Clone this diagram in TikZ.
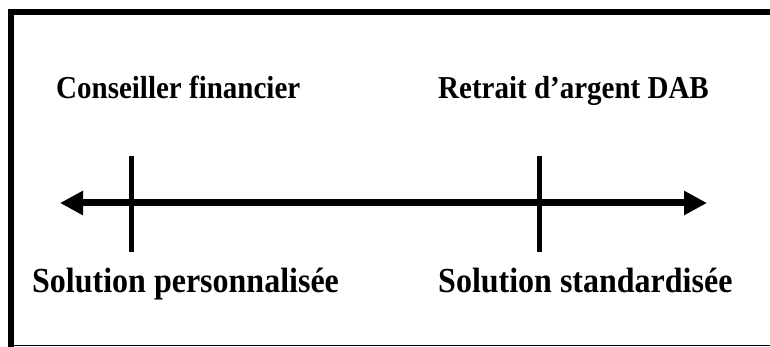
\documentclass[tikz,border=0pt]{standalone}
\usepackage{fontspec}
\usepackage{graphicx}
\setmainfont{Liberation Serif}
\usetikzlibrary{arrows.meta}
% bold caption text, drawn slightly taller than wide
\newcommand{\tallbf}[1]{\scalebox{1}[1.1]{\bfseries #1}}
\begin{document}
\begin{tikzpicture}[x=1pt,y=-1pt,
  label small/.style={font=\fontsize{29}{34}\selectfont, anchor=base west, inner sep=0pt},
  label big/.style={font=\fontsize{32}{38}\selectfont, anchor=base west, inner sep=0pt},
  axis/.style={line width=7pt, {Triangle[length=23pt,width=23pt]}-{Triangle[length=23pt,width=23pt]}},
  tick/.style={line width=5pt}]
  \useasboundingbox (0,0) rectangle (770,347);
  % frame
  \draw[line width=6pt] (11,347) -- (11,12) -- (770,12);
  \draw[line width=1.5pt] (8,345.5) -- (770,345.5);
  % scale axis
  \coordinate (L) at (60,203);
  \coordinate (R) at (707,203);
  \draw[axis] (L) -- (R);
  \coordinate (t1a) at (131,156);
  \coordinate (t1b) at (131,252);
  \coordinate (t2a) at (539,156);
  \coordinate (t2b) at (539,252);
  \draw[tick] (t1a) -- (t1b);
  \draw[tick] (t2a) -- (t2b);
  % labels
  \node[label small] (cf) at (56,99) {\tallbf{Conseiller financier}};
  \node[label small] (dab) at (438,99) {\tallbf{Retrait d’argent DAB}};
  \node[label big] (sp) at (32,292) {\tallbf{Solution personnalisée}};
  \node[label big] (ss) at (438,292) {\tallbf{Solution standardisée}};
\end{tikzpicture}
\end{document}
